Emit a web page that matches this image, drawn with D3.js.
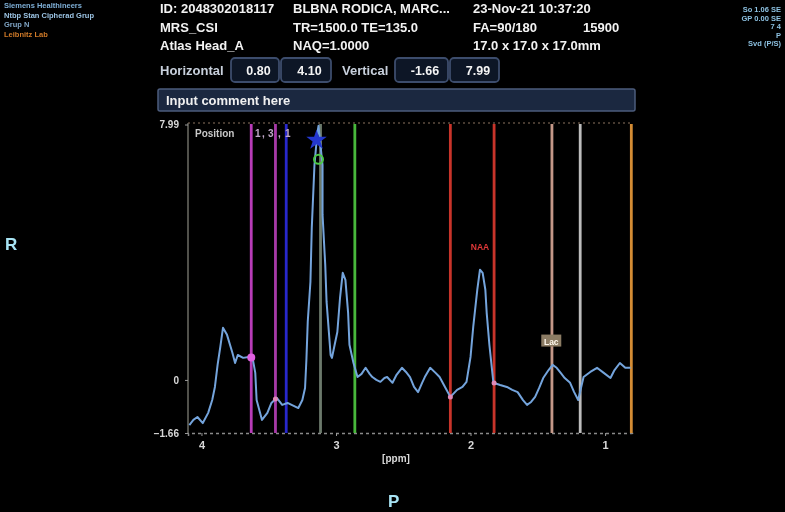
<!DOCTYPE html>
<html>
<head>
<meta charset="utf-8">
<script src="https://cdn.jsdelivr.net/npm/d3@7"></script>
<style>
  html, body { margin: 0; padding: 0; background: #000; }
  svg { display: block; filter: blur(0.55px); }
  text { font-family: "Liberation Sans", Arial, sans-serif; }
</style>
</head>
<body>
<svg id="chart" width="785" height="512"></svg>
<script>
// ---- data ----
const ppm = [4.09,4.06,4.03,3.99,3.95,3.92,3.90,3.88,3.86,3.84,3.81,3.77,3.75,3.73,3.69,3.65,3.62,3.60,3.59,3.55,3.51,3.48,3.44,3.40,3.36,3.33,3.28,3.25,3.23,3.22,3.21,3.19,3.18,3.16,3.14,3.13,3.12,3.10,3.10,3.08,3.07,3.04,3.03,3.01,2.99,2.97,2.95,2.93,2.91,2.90,2.87,2.84,2.81,2.78,2.75,2.73,2.70,2.67,2.64,2.62,2.58,2.55,2.51,2.48,2.45,2.42,2.39,2.36,2.34,2.30,2.26,2.23,2.19,2.15,2.10,2.06,2.03,2.00,1.98,1.95,1.93,1.91,1.89,1.88,1.86,1.83,1.78,1.73,1.69,1.65,1.61,1.58,1.55,1.52,1.49,1.46,1.42,1.39,1.36,1.33,1.30,1.26,1.23,1.20,1.16,1.11,1.06,1.01,0.96,0.93,0.89,0.85,0.81];
const signal = [-1.41,-1.25,-1.16,-1.35,-1.03,-0.63,-0.22,0.47,1.03,1.63,1.41,0.85,0.53,0.78,0.69,0.72,0.69,0.22,-0.63,-1.25,-1.03,-0.72,-0.56,-0.78,-0.72,-0.78,-0.88,-0.63,-0.25,0.63,1.82,3.07,4.76,6.73,7.67,7.95,7.52,6.73,5.17,3.60,2.44,0.78,0.69,1.10,1.50,2.57,3.35,3.13,2.10,1.10,0.53,0.09,0.19,0.38,0.19,0.09,0.00,-0.06,0.06,0.09,-0.09,0.16,0.38,0.25,0.09,-0.22,-0.38,-0.09,0.09,0.38,0.22,0.09,-0.22,-0.53,-0.31,-0.22,-0.06,0.72,1.66,2.82,3.45,3.35,2.82,2.10,1.10,-0.09,-0.16,-0.22,-0.31,-0.38,-0.63,-0.78,-0.69,-0.53,-0.25,0.06,0.31,0.47,0.38,0.22,0.06,-0.09,-0.38,-0.63,0.09,0.25,0.38,0.22,0.06,0.31,0.53,0.38,0.38];

const markerPpm = [3.63, 3.45, 3.37, 3.115, 2.86, 2.15, 1.825, 1.395, 1.185, 0.805];
const markerColor = ["#b83cb8", "#a83aa8", "#2828cc", "#6c7a6c", "#48b83c", "#c8342a", "#c8342a", "#c49888", "#bcbcbc", "#d48c34"];

const xDomain = [4.10, 0.80];
const yDomain = [-1.66, 7.99];
const xTicks = [4, 3, 2, 1];
const yTicks = [7.99, 0, -1.66];

const headerRows = [
  ["ID: 2048302018117", "BLBNA RODICA, MARC...", "23-Nov-21 10:37:20", ""],
  ["MRS_CSI", "TR=1500.0  TE=135.0", "FA=90/180", "15900"],
  ["Atlas Head_A", "NAQ=1.0000", "17.0 x 17.0 x 17.0mm", ""]
];
const rangeLabels = ["Horizontal", "Vertical"];
const rangeValues = ["0.80", "4.10", "-1.66", "7.99"];
const peakLabels = [{name: "NAA", ppm: 1.93, value: 4.2}, {name: "Lac", ppm: 1.40, value: 1.2}];
const positionText = ["Position", "1", ",", "3", ",", "1"];

// ---- drawing ----
const svg = d3.select("#chart");
svg.append("rect").attr("width", 785).attr("height", 512).attr("fill", "#000");

const plot = {left: 188, right: 632, top: 124.5, bottom: 433};
const x = d3.scaleLinear().domain(xDomain).range([plot.left, plot.right]);
const y = d3.scaleLinear().domain(yDomain).range([plot.bottom, plot.top]);

// header text
const colX = [160, 293, 473, 583];
const rowY = [13, 32, 50];
headerRows.forEach((row, ri) => {
  row.forEach((t, ci) => {
    if (!t) return;
    svg.append("text").attr("x", colX[ci]).attr("y", rowY[ri])
      .attr("fill", "#f2f2f2").attr("font-size", 13).attr("font-weight", "bold").text(t);
  });
});

// range boxes
svg.append("text").attr("x", 160).attr("y", 75).attr("fill", "#c8d0dc")
  .attr("font-size", 13).attr("font-weight", "bold").text(rangeLabels[0]);
svg.append("text").attr("x", 342).attr("y", 75).attr("fill", "#c8d0dc")
  .attr("font-size", 13).attr("font-weight", "bold").text(rangeLabels[1]);
const boxes = [[231, 280], [281, 332], [395, 449], [450, 500]];
boxes.forEach((b, i) => {
  svg.append("rect").attr("x", b[0]).attr("y", 58).attr("width", b[1] - b[0] - 1).attr("height", 24)
    .attr("rx", 4).attr("fill", "#0d1626").attr("stroke", "#3c4c6c").attr("stroke-width", 1.8);
  svg.append("text").attr("x", (b[0] + b[1]) / 2 + 3).attr("y", 75).attr("text-anchor", "middle")
    .attr("fill", "#f4f4f4").attr("font-size", 12.5).attr("font-weight", "bold").text(rangeValues[i]);
});

// comment bar
svg.append("rect").attr("x", 158).attr("y", 89).attr("width", 477).attr("height", 22)
  .attr("rx", 2).attr("fill", "#1b2840").attr("stroke", "#4c5c7c").attr("stroke-width", 1.5);
svg.append("text").attr("x", 166).attr("y", 105).attr("fill", "#f0f0f0")
  .attr("font-size", 13).attr("font-weight", "bold").text("Input comment here");

// corner info texts
const tl = [["#7fb0d8", "Siemens Healthineers"], ["#9cc4e4", "Ntbp Stan Cipherad Grup"], ["#7fa4c4", "Grup N"], ["#d07a28", "Leibnitz Lab"]];
tl.forEach((d, i) => svg.append("text").attr("x", 4).attr("y", 8 + i * 9.5).attr("fill", d[0])
  .attr("font-size", 7.5).attr("font-weight", "bold").text(d[1]));
const tr = ["So 1.06 SE", "GP 0.00 SE", "7 4", "P", "Svd (P/S)"];
tr.forEach((t, i) => svg.append("text").attr("x", 781).attr("y", 12 + i * 8.5).attr("text-anchor", "end")
  .attr("fill", "#8cc0e0").attr("font-size", 7.5).attr("font-weight", "bold").text(t));

// orientation letters
svg.append("text").attr("x", 5).attr("y", 250).attr("fill", "#a8e4f4").attr("font-size", 17)
  .attr("font-weight", "bold").text("R");
svg.append("text").attr("x", 388).attr("y", 507).attr("fill", "#a8e4f4").attr("font-size", 17)
  .attr("font-weight", "bold").text("P");

// frame
svg.append("line").attr("x1", plot.left).attr("x2", plot.right).attr("y1", 123).attr("y2", 123)
  .attr("stroke", "#5e4e40").attr("stroke-width", 1.5).attr("stroke-dasharray", "2,3");
svg.append("line").attr("x1", plot.left).attr("x2", plot.left).attr("y1", 123).attr("y2", plot.bottom)
  .attr("stroke", "#6c6c64").attr("stroke-width", 1.5);

// axes
const xAxis = d3.axisBottom(x).tickValues(xTicks).tickFormat(d3.format("d")).tickSize(3);
const gx = svg.append("g").attr("transform", `translate(0,${plot.bottom})`).call(xAxis);
gx.select(".domain").attr("stroke", "#8a8a8a").attr("stroke-width", 1.5).attr("stroke-dasharray", "3,3");
gx.selectAll(".tick line").attr("stroke", "#9a9a9a");
gx.selectAll(".tick text").attr("fill", "#d8d8d8").attr("font-size", 11).attr("font-weight", "bold").attr("dy", "0.9em");
svg.append("text").attr("x", 396).attr("y", 462).attr("text-anchor", "middle").attr("fill", "#d8d8d8")
  .attr("font-size", 10).attr("font-weight", "bold").text("[ppm]");

const yAxis = d3.axisLeft(y).tickValues(yTicks).tickFormat(d => d === 0 ? "0" : d3.format(".2f")(d)).tickSize(3);
const gy = svg.append("g").attr("transform", `translate(${plot.left},0)`).call(yAxis);
gy.select(".domain").remove();
gy.selectAll(".tick line").attr("stroke", "#9a9a9a");
gy.selectAll(".tick text").attr("fill", "#d8d8d8").attr("font-size", 10).attr("font-weight", "bold").attr("dx", "-3");

// marker lines
markerPpm.forEach((p, i) => {
  svg.append("line").attr("x1", x(p)).attr("x2", x(p)).attr("y1", 124).attr("y2", plot.bottom)
    .attr("stroke", markerColor[i]).attr("stroke-width", 2.8);
});

// Position label
const posX = [195, 255, 262, 268, 278, 285];
positionText.forEach((t, i) => svg.append("text").attr("x", posX[i]).attr("y", 137)
  .attr("fill", i === 0 ? "#c8c8c8" : "#c0a8c8").attr("font-size", 10).attr("font-weight", "bold").text(t));

// spectrum
const pts = ppm.map((p, i) => [p, signal[i]]);
const line = d3.line().x(d => x(d[0])).y(d => y(d[1]));
svg.append("path").datum(pts).attr("d", line).attr("fill", "none")
  .attr("stroke", "#74a4dc").attr("stroke-width", 2).attr("stroke-linejoin", "round");

// helper to get signal at ppm
function valAt(p) {
  for (let i = 0; i < ppm.length - 1; i++) {
    if (ppm[i] >= p && ppm[i + 1] <= p) {
      const t = (ppm[i] - p) / (ppm[i] - ppm[i + 1]);
      return signal[i] + t * (signal[i + 1] - signal[i]);
    }
  }
  return 0;
}

// intersection markers
svg.append("circle").attr("cx", x(markerPpm[0])).attr("cy", y(valAt(markerPpm[0]))).attr("r", 4)
  .attr("fill", "#e060e0");
[1, 5, 6].forEach(i => svg.append("circle").attr("cx", x(markerPpm[i])).attr("cy", y(valAt(markerPpm[i])))
  .attr("r", 2.5).attr("fill", "#e08ab8"));

// blue star & green circle at top of choline line
const star = d3.symbol().type(d3.symbolStar).size(130);
svg.append("path").attr("d", star).attr("transform", `translate(${x(markerPpm[3]) - 4},${y(7.5)})`)
  .attr("fill", "#2438d0");
svg.append("circle").attr("cx", x(markerPpm[3]) - 2).attr("cy", y(6.9)).attr("r", 4.5)
  .attr("fill", "none").attr("stroke", "#4cc844").attr("stroke-width", 2);

// peak labels
const naa = peakLabels[0];
svg.append("text").attr("x", x(naa.ppm)).attr("y", y(naa.value) + 4).attr("text-anchor", "middle")
  .attr("fill", "#e03838").attr("font-size", 8.5).attr("font-weight", "bold").text(naa.name);
const lac = peakLabels[1];
svg.append("rect").attr("x", x(lac.ppm) - 10).attr("y", y(lac.value) - 7).attr("width", 20).attr("height", 12)
  .attr("fill", "#8c7c64");
svg.append("text").attr("x", x(lac.ppm)).attr("y", y(lac.value) + 3).attr("text-anchor", "middle")
  .attr("fill", "#fff8ec").attr("font-size", 8.5).attr("font-weight", "bold").text(lac.name);
</script>
</body>
</html>
